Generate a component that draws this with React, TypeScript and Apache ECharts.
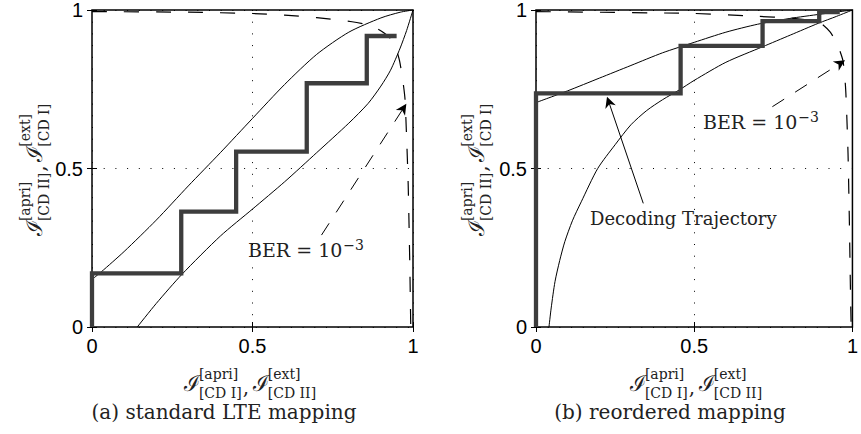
import React, { useEffect, useRef } from "react";
import * as echarts from "echarts";

// ---------- data ----------
const TICK_INTERVAL = 0.5;

// (a) standard LTE mapping
const UPPER_A = [
  [0, 0.15], [0.029, 0.174], [0.1, 0.238], [0.2, 0.337], [0.3, 0.445], [0.4, 0.55],
  [0.5, 0.658], [0.6, 0.765], [0.7, 0.86], [0.8, 0.93], [0.9, 0.975], [0.96, 0.993], [1, 1],
];
const LOWER_A = [
  [0.141, 0], [0.2, 0.074], [0.28, 0.166], [0.4, 0.287], [0.5, 0.372], [0.6, 0.458],
  [0.7, 0.55], [0.8, 0.643], [0.86, 0.705], [0.9, 0.76], [0.93, 0.81], [0.96, 0.88],
  [0.98, 0.935], [1, 1],
];
const BER_A = [
  [0, 0.995], [0.3, 0.993], [0.5, 0.989], [0.6, 0.984], [0.7, 0.976], [0.81, 0.963],
  [0.85, 0.955], [0.89, 0.94], [0.925, 0.915], [0.945, 0.885], [0.958, 0.84],
  [0.968, 0.78], [0.975, 0.72], [0.98, 0.6], [0.985, 0.45], [0.99, 0.2], [0.993, 0],
];
const STAIR_A = [
  [0, 0], [0, 0.169], [0.278, 0.169], [0.278, 0.364], [0.449, 0.364], [0.449, 0.553],
  [0.669, 0.553], [0.669, 0.769], [0.856, 0.769], [0.856, 0.918], [0.949, 0.918],
];
const ARROW_A = [[0.715, 0.29], [0.97, 0.69]];

// (b) reordered mapping
const UPPER_B = [
  [0, 0.708], [0.1, 0.745], [0.2, 0.785], [0.3, 0.825], [0.4, 0.865], [0.5, 0.898],
  [0.6, 0.93], [0.7, 0.955], [0.8, 0.973], [0.9, 0.987], [1, 1],
];
const LOWER_B = [
  [0.041, 0], [0.048, 0.06], [0.06, 0.143], [0.075, 0.21], [0.091, 0.269], [0.115, 0.335],
  [0.143, 0.395], [0.195, 0.5], [0.25, 0.575], [0.3, 0.638], [0.35, 0.683], [0.4, 0.717],
  [0.453, 0.748], [0.5, 0.778], [0.6, 0.835], [0.716, 0.884], [0.804, 0.921],
  [0.892, 0.958], [0.95, 0.98], [1, 1],
];
const BER_B = [
  [0, 0.995], [0.5, 0.989], [0.7, 0.98], [0.8, 0.975], [0.86, 0.968], [0.9, 0.958],
  [0.93, 0.93], [0.953, 0.89], [0.97, 0.84], [0.978, 0.76], [0.982, 0.67], [0.986, 0.55],
  [0.99, 0.35], [0.994, 0.1], [0.996, 0],
];
const STAIR_B = [
  [0, 0], [0, 0.737], [0.457, 0.737], [0.457, 0.887], [0.716, 0.887], [0.716, 0.965],
  [0.895, 0.965], [0.895, 0.993], [0.96, 0.993],
];
const ARROW_B = [[0.747, 0.695], [0.962, 0.832]];
const ARROW_DECODING = [[0.339, 0.39], [0.23, 0.71]];

// texts
const TITLES = ["(a) standard LTE mapping", "(b) reordered mapping"];
const X_LABEL_TERMS: [string, string][] = [["[apri]", "[CD I]"], ["[ext]", "[CD II]"]];
const Y_LABEL_TERMS: [string, string][] = [["[apri]", "[CD II]"], ["[ext]", "[CD I]"]];
const BER_MAIN = "BER = 10";
const BER_EXP = "\u22123";
const DECODING_TEXT = "Decoding Trajectory";

// ---------- styling ----------
const SERIF = "'DejaVu Serif', 'Liberation Serif', serif";
const SANS = "'Liberation Sans', Arial, sans-serif";
const TEXT_COLOR = "#222";
const ARROW_PATH = "path://M5,0 L10,12 L5,8.5 L0,12 Z";

let measureCtx: CanvasRenderingContext2D | null = null;
function measure(text: string, size: number) {
  if (!measureCtx) measureCtx = document.createElement("canvas").getContext("2d");
  measureCtx!.font = `${size}px ${SERIF}`;
  return measureCtx!.measureText(text).width;
}

function txt(text: string, x: number, y: number, size: number, align = "left") {
  return {
    type: "text",
    x,
    y,
    silent: true,
    style: {
      text,
      fill: TEXT_COLOR,
      fontFamily: SERIF,
      fontSize: size,
      textAlign: align,
      textVerticalAlign: "middle",
    },
  };
}

function mathLabel(terms: [string, string][], cx: number, cy: number, rotation: number) {
  const MAIN = 22;
  const SCR = 14;
  const children: any[] = [];
  let x = 0;
  terms.forEach(([sup, sub], i) => {
    if (i > 0) {
      children.push(txt(",", x + 1, 4, 20));
      x += 11;
    }
    children.push(txt("\u2110", x, 0, MAIN));
    x += measure("\u2110", MAIN) - 1;
    children.push(txt(sup, x, -9, SCR));
    children.push(txt(sub, x, 10, SCR));
    x += Math.max(measure(sup, SCR), measure(sub, SCR));
  });
  children.forEach((c) => (c.x -= x / 2));
  return { type: "group", x: cx, y: cy, rotation, children };
}

function axisPair(gi: number) {
  const common = {
    type: "value",
    gridIndex: gi,
    min: 0,
    max: 1,
    interval: TICK_INTERVAL,
    axisLine: { show: false },
    axisTick: { show: true, inside: true, length: 5, lineStyle: { color: "#000", width: 1 } },
  };
  return {
    main: {
      ...common,
      axisLabel: { show: true, fontFamily: SANS, fontSize: 20, color: "#000", margin: 9 },
      splitLine: { show: true, lineStyle: { color: "#000", width: 1, type: [1, 10.7] } },
    },
    mirror: {
      ...common,
      axisLabel: { show: false },
      splitLine: { show: false },
    },
  };
}

function lineSeries(gi: number, data: number[][], style: any, smooth: number | boolean, z = 2) {
  return {
    type: "line",
    xAxisIndex: gi,
    yAxisIndex: gi,
    data,
    symbol: "none",
    silent: true,
    smooth,
    z,
    lineStyle: style,
  };
}

function arrowSeries(gi: number, arrows: { pts: number[][]; dashed: boolean }[]) {
  return {
    type: "line",
    xAxisIndex: gi,
    yAxisIndex: gi,
    data: [],
    silent: true,
    markLine: {
      silent: true,
      animation: false,
      symbol: ["none", ARROW_PATH],
      symbolSize: 11,
      label: { show: false },
      data: arrows.map((a) => [
        {
          coord: a.pts[0],
          lineStyle: { color: "#000", width: 1, type: a.dashed ? [14, 13] : "solid" },
          itemStyle: { color: "#000" },
        },
        { coord: a.pts[1] },
      ]),
    },
  };
}

export default function App() {
  const ref = useRef<HTMLDivElement>(null);
  useEffect(() => {
    document.body.style.margin = "0";
    if (!ref.current) return;
    const chart = echarts.init(ref.current, null, { renderer: "svg" });

    const a0 = axisPair(0);
    const a1 = axisPair(1);

    const thin = { color: "#000", width: 1 };
    const dashed = { color: "#000", width: 1.2, type: [15, 17] };
    const stair = { color: "#3d3d3d", width: 4.3, cap: "butt", join: "miter" };

    const option: any = {
      animation: false,
      backgroundColor: "#fff",
      grid: [
        { left: 92, top: 10, width: 321, height: 317, show: true, borderColor: "#000", borderWidth: 1.5, backgroundColor: "transparent" },
        { left: 536, top: 10, width: 322, height: 317, show: true, borderColor: "#000", borderWidth: 1.5, backgroundColor: "transparent" },
      ],
      xAxis: [
        { ...a0.main, position: "bottom" },
        { ...a1.main, position: "bottom" },
        { ...a0.mirror, position: "top" },
        { ...a1.mirror, position: "top" },
      ],
      yAxis: [
        { ...a0.main, position: "left" },
        { ...a1.main, position: "left" },
        { ...a0.mirror, position: "right" },
        { ...a1.mirror, position: "right" },
      ],
      series: [
        lineSeries(0, UPPER_A, thin, 0.25),
        lineSeries(0, LOWER_A, thin, 0.25),
        lineSeries(0, BER_A, dashed, 0.2),
        lineSeries(0, STAIR_A, stair, false, 3),
        arrowSeries(0, [{ pts: ARROW_A, dashed: true }]),
        lineSeries(1, UPPER_B, thin, 0.25),
        lineSeries(1, LOWER_B, thin, 0.25),
        lineSeries(1, BER_B, dashed, 0.2),
        lineSeries(1, STAIR_B, stair, false, 3),
        arrowSeries(1, [
          { pts: ARROW_B, dashed: true },
          { pts: ARROW_DECODING, dashed: false },
        ]),
      ],
      graphic: [
        mathLabel(X_LABEL_TERMS, 250, 383, 0),
        mathLabel(X_LABEL_TERMS, 696, 383, 0),
        mathLabel(Y_LABEL_TERMS, 34, 170, Math.PI / 2),
        mathLabel(Y_LABEL_TERMS, 476, 170, Math.PI / 2),
        txt(TITLES[0], 224, 412, 20, "center"),
        txt(TITLES[1], 670, 412, 20, "center"),
        txt(BER_MAIN, 248, 250, 19),
        txt(BER_EXP, 248 + measure(BER_MAIN, 19) + 1, 245, 14),
        txt(BER_MAIN, 703, 122, 19),
        txt(BER_EXP, 703 + measure(BER_MAIN, 19) + 1, 117, 14),
        txt(DECODING_TEXT, 590, 218, 18),
      ],
    };
    chart.setOption(option);
    return () => chart.dispose();
  }, []);
  return <div ref={ref} style={{ width: 861, height: 434 }} />;
}
